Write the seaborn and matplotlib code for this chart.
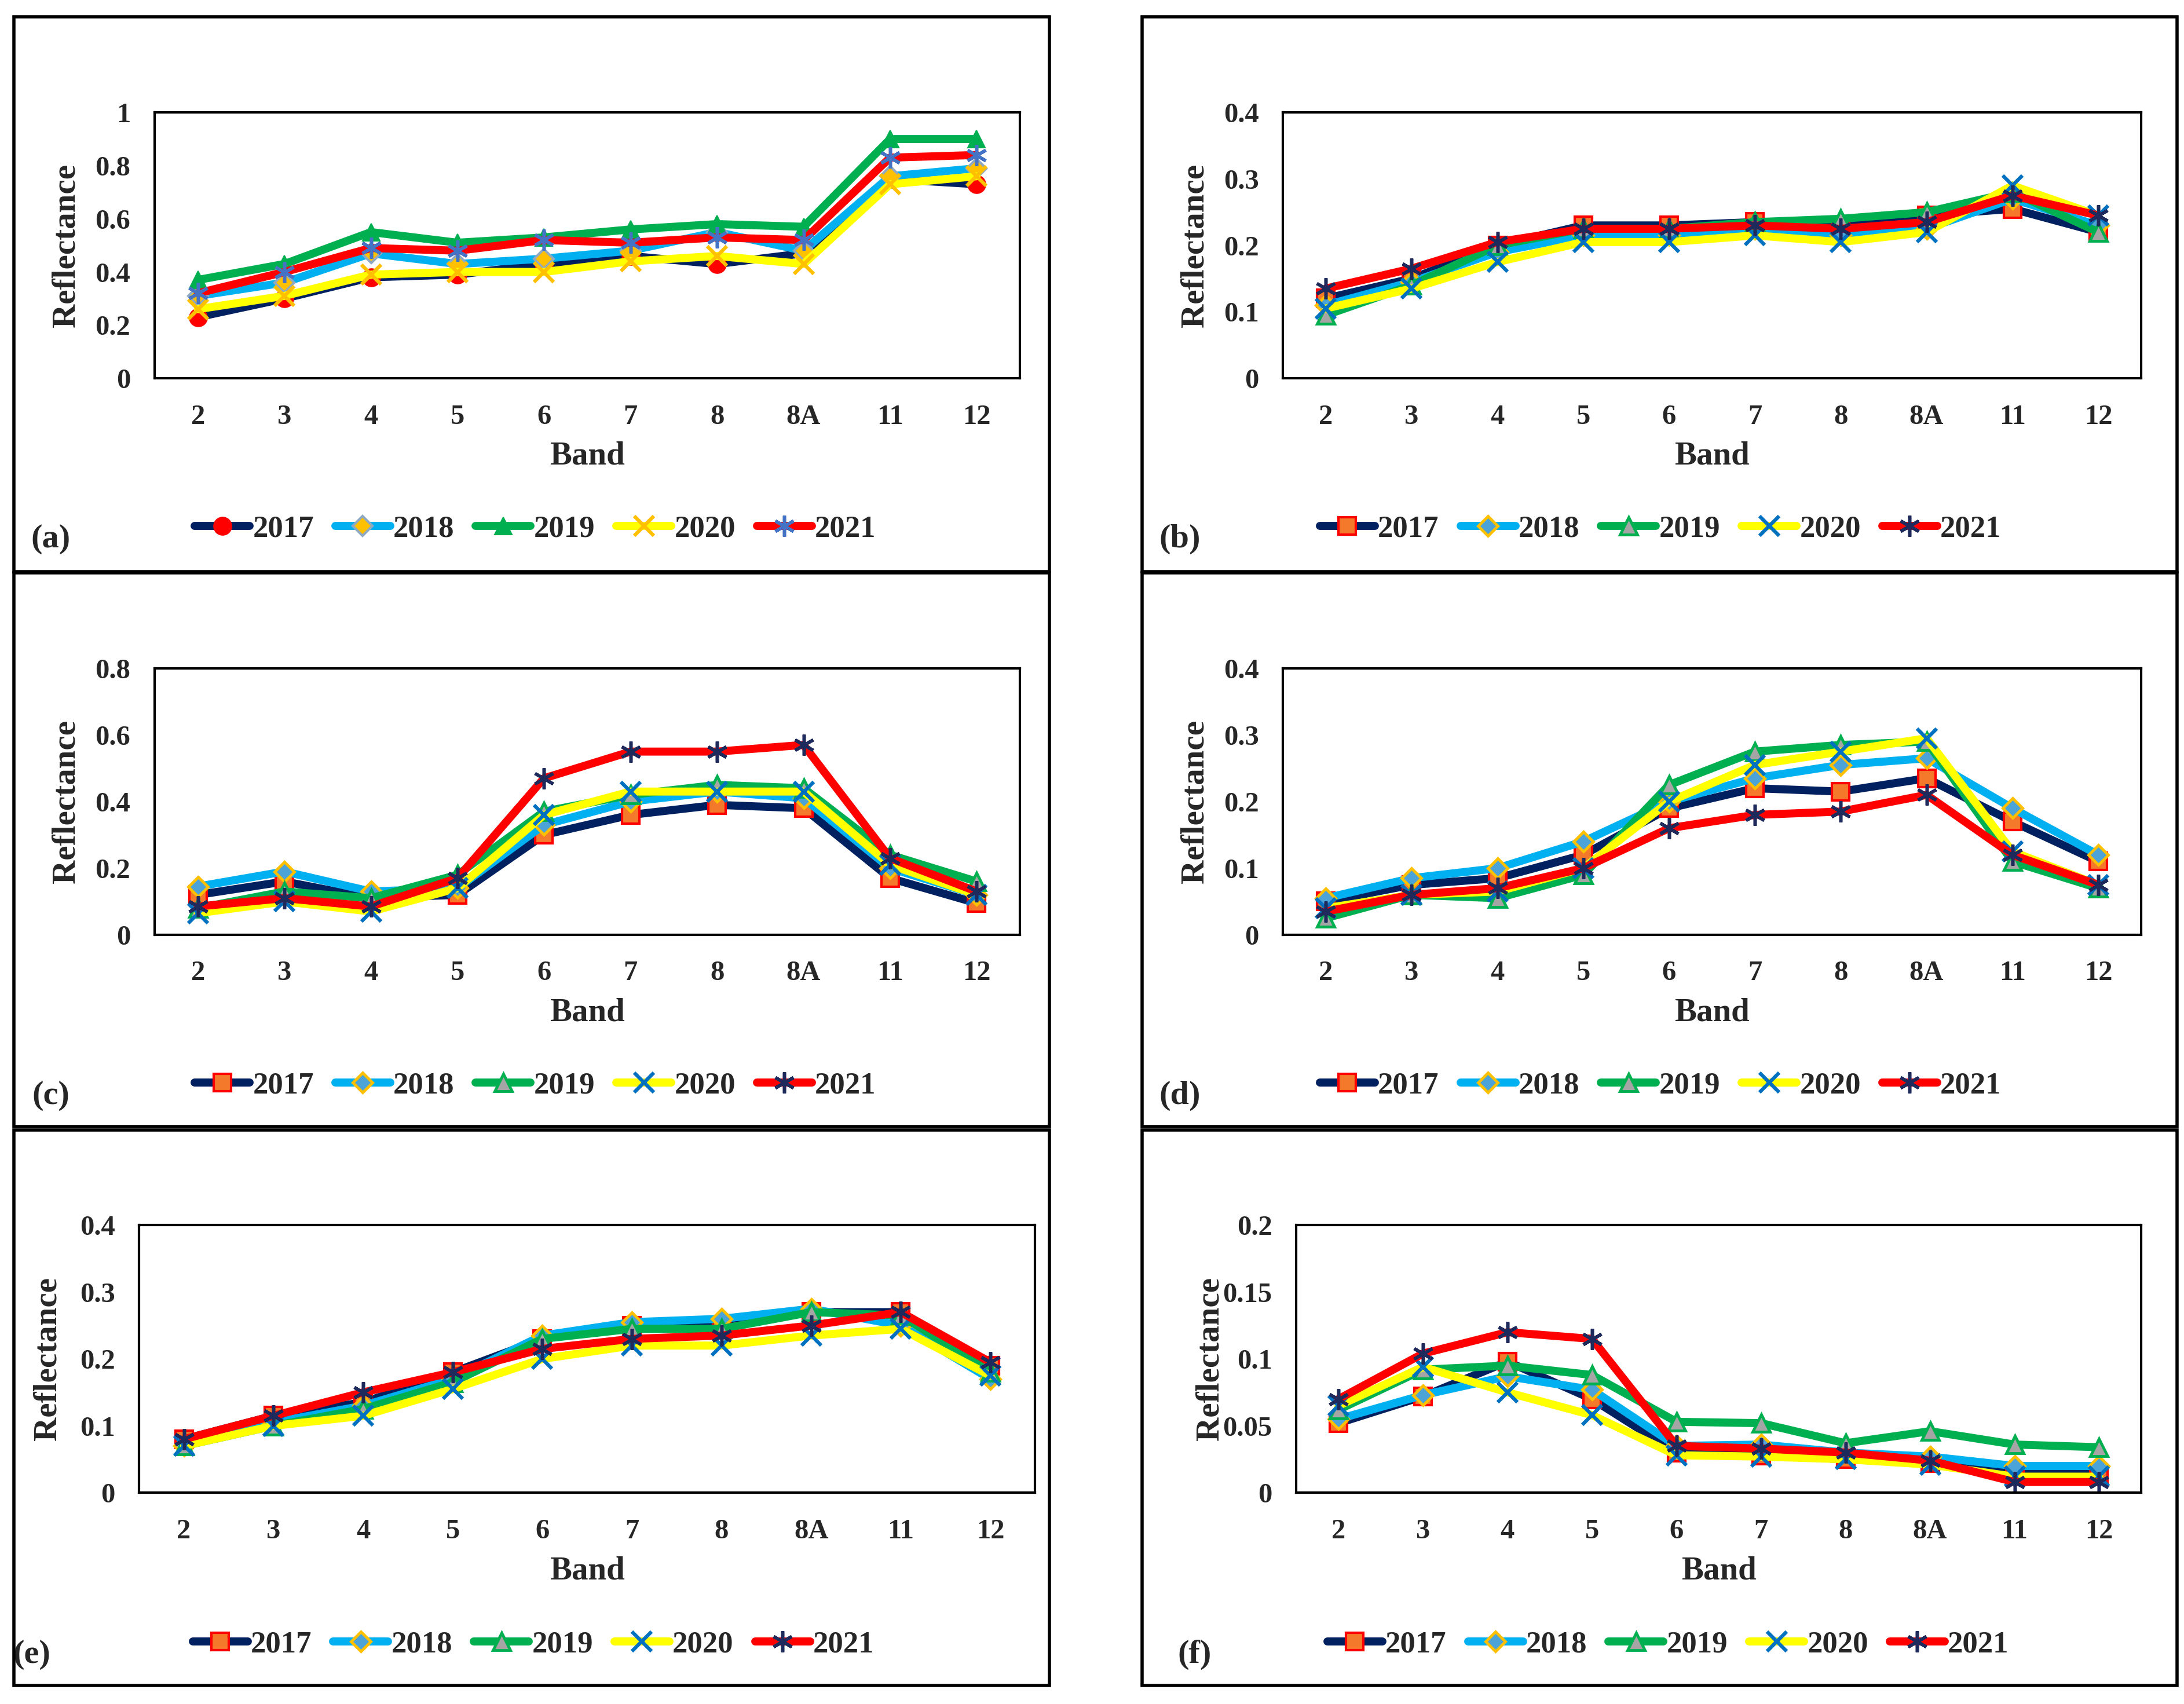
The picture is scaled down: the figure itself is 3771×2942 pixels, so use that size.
import numpy as np
import pandas as pd
import matplotlib
import matplotlib.pyplot as plt
from matplotlib.patches import Rectangle
import seaborn as sns

matplotlib.use("Agg")

bands = ["2", "3", "4", "5", "6", "7", "8", "8A", "11", "12"]
years = ["2017", "2018", "2019", "2020", "2021"]

# reflectance per year
refl_a = {
    "2017": [0.23, 0.30, 0.38, 0.39, 0.43, 0.46, 0.43, 0.47, 0.75, 0.73],
    "2018": [0.31, 0.36, 0.47, 0.43, 0.45, 0.48, 0.55, 0.48, 0.76, 0.79],
    "2019": [0.37, 0.43, 0.55, 0.51, 0.53, 0.56, 0.58, 0.57, 0.90, 0.90],
    "2020": [0.26, 0.31, 0.39, 0.40, 0.40, 0.44, 0.46, 0.43, 0.73, 0.76],
    "2021": [0.32, 0.40, 0.49, 0.48, 0.52, 0.51, 0.53, 0.52, 0.83, 0.84],
}
refl_b = {
    "2017": [0.12, 0.15, 0.20, 0.23, 0.23, 0.235, 0.23, 0.245, 0.255, 0.22],
    "2018": [0.11, 0.145, 0.19, 0.215, 0.215, 0.225, 0.215, 0.225, 0.27, 0.23],
    "2019": [0.095, 0.14, 0.20, 0.225, 0.225, 0.235, 0.24, 0.25, 0.28, 0.22],
    "2020": [0.105, 0.135, 0.175, 0.205, 0.205, 0.215, 0.205, 0.22, 0.29, 0.245],
    "2021": [0.135, 0.165, 0.205, 0.225, 0.225, 0.23, 0.225, 0.235, 0.275, 0.245],
}
refl_c = {
    "2017": [0.12, 0.16, 0.11, 0.12, 0.30, 0.36, 0.39, 0.38, 0.17, 0.095],
    "2018": [0.145, 0.19, 0.13, 0.14, 0.33, 0.40, 0.43, 0.41, 0.20, 0.12],
    "2019": [0.08, 0.13, 0.11, 0.18, 0.37, 0.42, 0.45, 0.44, 0.24, 0.16],
    "2020": [0.065, 0.10, 0.07, 0.14, 0.36, 0.43, 0.43, 0.43, 0.21, 0.12],
    "2021": [0.085, 0.11, 0.085, 0.17, 0.47, 0.55, 0.55, 0.57, 0.23, 0.13],
}
refl_d = {
    "2017": [0.05, 0.075, 0.085, 0.12, 0.19, 0.22, 0.215, 0.235, 0.17, 0.11],
    "2018": [0.055, 0.085, 0.10, 0.14, 0.20, 0.235, 0.255, 0.265, 0.19, 0.12],
    "2019": [0.025, 0.06, 0.055, 0.09, 0.225, 0.275, 0.285, 0.29, 0.11, 0.07],
    "2020": [0.04, 0.06, 0.065, 0.10, 0.20, 0.255, 0.275, 0.295, 0.125, 0.075],
    "2021": [0.035, 0.06, 0.07, 0.10, 0.16, 0.18, 0.185, 0.21, 0.12, 0.075],
}
refl_e = {
    "2017": [0.08, 0.115, 0.135, 0.18, 0.23, 0.25, 0.25, 0.27, 0.27, 0.19],
    "2018": [0.07, 0.105, 0.13, 0.17, 0.235, 0.255, 0.26, 0.275, 0.25, 0.17],
    "2019": [0.07, 0.10, 0.125, 0.165, 0.23, 0.245, 0.245, 0.27, 0.265, 0.18],
    "2020": [0.07, 0.10, 0.115, 0.155, 0.20, 0.22, 0.22, 0.235, 0.245, 0.175],
    "2021": [0.08, 0.115, 0.15, 0.18, 0.215, 0.23, 0.235, 0.25, 0.27, 0.195],
}
refl_f = {
    "2017": [0.052, 0.072, 0.098, 0.07, 0.03, 0.028, 0.025, 0.022, 0.015, 0.014],
    "2018": [0.055, 0.073, 0.087, 0.077, 0.035, 0.036, 0.03, 0.027, 0.02, 0.02],
    "2019": [0.062, 0.092, 0.095, 0.088, 0.053, 0.052, 0.037, 0.046, 0.036, 0.034],
    "2020": [0.065, 0.094, 0.075, 0.058, 0.028, 0.027, 0.025, 0.021, 0.012, 0.012],
    "2021": [0.07, 0.104, 0.12, 0.115, 0.035, 0.033, 0.03, 0.024, 0.008, 0.008],
}

line_colors = {"2017": "#002060", "2018": "#00B0F0", "2019": "#00B050",
               "2020": "#FFFF00", "2021": "#FF0000"}

asterisk = (6, 2, 0)
# marker style: marker, size, face, edge, edge width
marks_a = {
    "2017": ("o", 22, "#FF0000", "#FF0000", 1.5),
    "2018": ("D", 17, "#FFC000", "#8EA9C1", 3),
    "2019": ("^", 22, "#00B050", "#00B050", 1.5),
    "2020": ("x", 24, "#FFC000", "#FFC000", 4.5),
    "2021": (asterisk, 26, "#4472C4", "#4472C4", 4),
}
marks = {
    "2017": ("s", 22, "#F4792A", "#FF0000", 3),
    "2018": ("D", 17, "#4BA3D8", "#FFC000", 3.5),
    "2019": ("^", 22, "#A5A5A5", "#00B050", 3.5),
    "2020": ("x", 24, "#0070C0", "#0070C0", 4.5),
    "2021": (asterisk, 26, "#1F2A5C", "#1F2A5C", 4),
}

panels = [
    ("(a)", refl_a, 1.0, 0.2, [0.0708, 0.778, 0.3962, 0.156]),
    ("(b)", refl_b, 0.4, 0.1, [0.5874, 0.778, 0.3930, 0.156]),
    ("(c)", refl_c, 0.8, 0.2, [0.0708, 0.4514, 0.3962, 0.1564]),
    ("(d)", refl_d, 0.4, 0.1, [0.5874, 0.4514, 0.3930, 0.1564]),
    ("(e)", refl_e, 0.4, 0.1, [0.0637, 0.124, 0.4103, 0.157]),
    ("(f)", refl_f, 0.2, 0.05, [0.5935, 0.124, 0.3870, 0.157]),
]

boxes = [
    (0.0064, 0.6645, 0.4805, 0.990), (0.523, 0.6645, 0.9968, 0.990),
    (0.0064, 0.339, 0.4805, 0.664), (0.523, 0.339, 0.9968, 0.664),
    (0.0064, 0.011, 0.4805, 0.337), (0.523, 0.011, 0.9968, 0.337),
]

sns.set_style("white")
plt.rcParams['font.family'] = ['Liberation Serif', 'DejaVu Serif']
plt.rcParams['font.weight'] = 'bold'

fig = plt.figure(figsize=(37.71, 29.42), dpi=100)

for tag, refl, top, step, pos in panels:
    ax = fig.add_axes(pos)
    for yr in years:
        m, ms, fc, ec, ew = (marks_a if tag == "(a)" else marks)[yr]
        df = pd.DataFrame({"Band": bands, "Reflectance": refl[yr]})
        sns.lineplot(data=df, x="Band", y="Reflectance", ax=ax, sort=False,
                     color=line_colors[yr], lw=10, marker=m, markersize=ms,
                     markerfacecolor=fc, markeredgecolor=ec, markeredgewidth=ew,
                     label=yr)
    ax.set_xlim(-0.5, len(bands) - 0.5)
    ax.set_ylim(0, top)
    ticks = np.arange(0, top + step / 2, step)
    ax.set_yticks(ticks)
    ax.set_yticklabels([f"{t:g}" for t in ticks])
    ax.tick_params(axis='both', length=0, labelsize=35)
    ax.tick_params(axis='x', pad=32)
    ax.tick_params(axis='y', pad=30)
    for lab in ax.get_xticklabels() + ax.get_yticklabels():
        lab.set_fontweight('bold')
    for sp in ax.spines.values():
        sp.set_color('black')
        sp.set_linewidth(3)
    ax.set_xlabel("Band", fontsize=41, fontweight='bold', va='center')
    ax.set_ylabel("Reflectance", fontsize=41, fontweight='bold', va='center')
    ax.xaxis.set_label_coords(0.5, -0.292)
    ax.yaxis.set_label_coords(-0.102, 0.5)
    ax.legend(loc='center', bbox_to_anchor=(0.44, -0.567), ncol=5, frameon=False,
              handlelength=1.8, handletextpad=0.1, columnspacing=0.7,
              prop={'size': 38, 'weight': 'bold'})
    ax.text(-0.12, -0.605, tag, transform=ax.transAxes, fontsize=42,
            fontweight='bold', ha='center', va='center')

for x0, y0, x1, y1 in boxes:
    fig.patches.append(Rectangle((x0, y0), x1 - x0, y1 - y0, transform=fig.transFigure,
                                 fill=False, lw=4, ec='black'))

fig.savefig("out.png", dpi=100, facecolor='white')
